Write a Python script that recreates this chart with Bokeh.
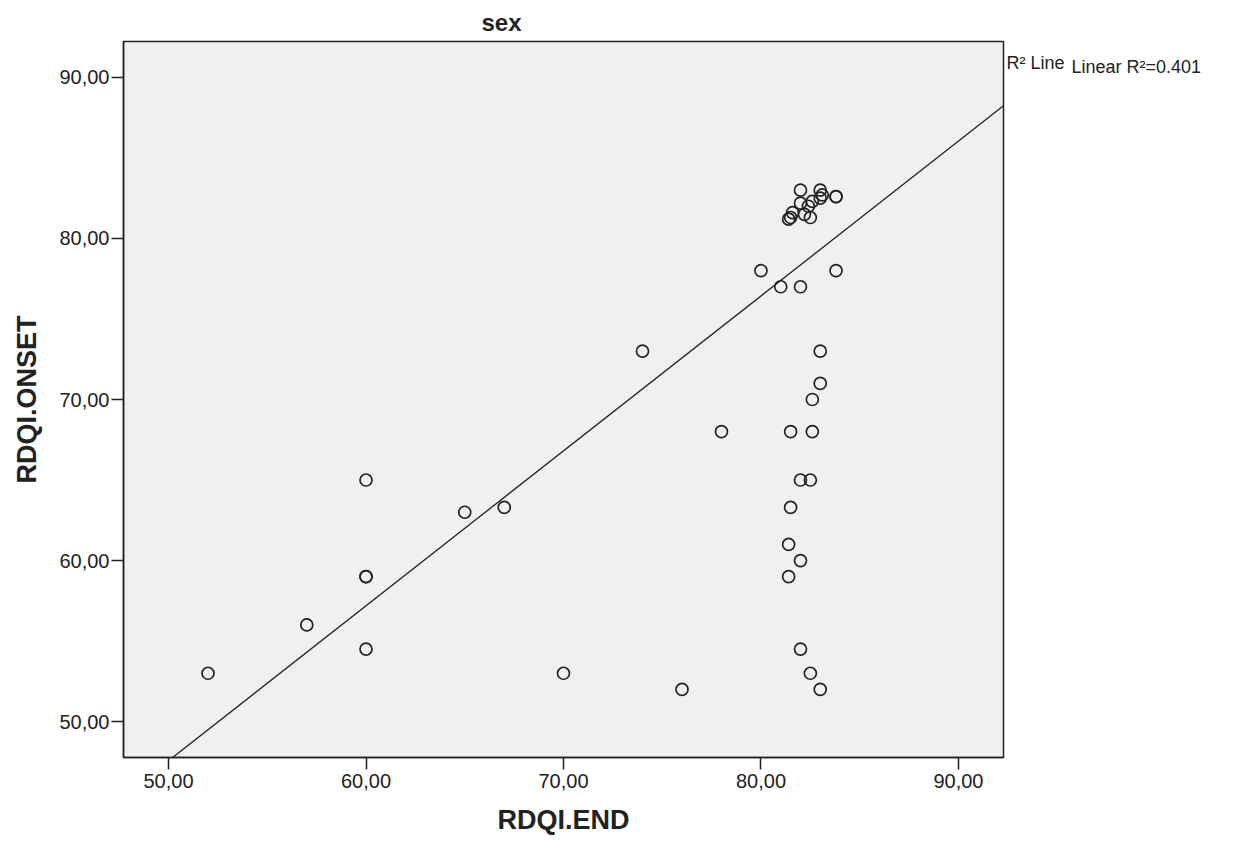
from bokeh.plotting import figure
from bokeh.layouts import row
from bokeh.models import Range1d, FixedTicker, Title
from bokeh.core.properties import value
from bokeh.embed import file_html
from bokeh.resources import INLINE

# Data (RDQI.END, RDQI.ONSET)
rdqi_end = [52, 57, 60, 60, 60, 60, 65, 67, 70, 74, 76, 78, 80, 81, 82, 83.8,
            83, 83, 82.6, 81.5, 82.6, 82, 82.5, 81.5, 81.4, 82, 81.4, 82, 82.5, 83,
            82, 83, 83.8, 83.8, 82, 82.6, 83.1, 83, 81.5, 81.4, 82.2, 82.5, 81.6, 82.4]
rdqi_onset = [53, 56, 54.5, 59, 59, 65, 63, 63.3, 53, 73, 52, 68, 78, 77, 77, 78,
              73, 71, 70, 68, 68, 65, 65, 63.3, 61, 60, 59, 54.5, 53, 52,
              83, 83, 82.6, 82.6, 82.2, 82.3, 82.7, 82.5, 81.3, 81.2, 81.5, 81.3, 81.6, 82.0]

x_ticks = [50, 60, 70, 80, 90]
x_tick_labels = ["50,00", "60,00", "70,00", "80,00", "90,00"]
y_ticks = [50, 60, 70, 80, 90]
y_tick_labels = ["50,00", "60,00", "70,00", "80,00", "90,00"]

fit_intercept = -0.53
fit_slope = 0.962
legend_text = "R\u00b2 Line"
r2_text = "Linear R\u00b2=0.401"

FONT = "Liberation Sans"
INK = "#222222"

p = figure(width=1006, height=840, output_backend="svg", toolbar_location=None,
           x_range=Range1d(47.72, 92.28), y_range=Range1d(47.77, 92.23),
           min_border_left=123, min_border_right=3, min_border_top=40, min_border_bottom=83)
p.background_fill_color = "#f0f0f0"
p.border_fill_color = "white"
p.outline_line_color = INK
p.outline_line_width = 1.5
p.grid.visible = False

for ax, ticks, labels in ((p.xaxis[0], x_ticks, x_tick_labels), (p.yaxis[0], y_ticks, y_tick_labels)):
    ax.ticker = FixedTicker(ticks=ticks)
    ax.major_label_overrides = {t: l for t, l in zip(ticks, labels)}
    ax.minor_tick_line_color = None
    ax.major_tick_out = 12
    ax.major_tick_in = 0
    ax.major_tick_line_width = 1.5
    ax.major_tick_line_color = INK
    ax.axis_line_width = 1.5
    ax.axis_line_color = INK
    ax.major_label_text_font = FONT
    ax.major_label_text_font_size = "20px"
    ax.major_label_text_color = INK
    ax.axis_label_text_font = FONT
    ax.axis_label_text_font_size = "27px"
    ax.axis_label_text_font_style = "bold"
    ax.axis_label_text_color = INK

p.xaxis.axis_label = "RDQI.END"
p.yaxis.axis_label = "RDQI.ONSET"
p.xaxis.major_label_standoff = 4
p.xaxis.axis_label_standoff = 14
p.yaxis.major_label_standoff = 2
p.yaxis.axis_label_standoff = 14

# regression line
x0, x1 = 47.72, 92.28
p.line([x0, x1], [fit_intercept + fit_slope * x0, fit_intercept + fit_slope * x1],
       line_color=INK, line_width=1.3)

p.scatter(rdqi_end, rdqi_onset, marker="circle", size=12, fill_color=None,
          line_color=INK, line_width=1.7)

p.add_layout(Title(text="sex", align="left", offset=358, text_font=FONT, text_font_size="24px",
                   text_font_style="bold", text_color=INK, standoff=12), "above")

# side panel with the R-squared legend texts
side = figure(width=224, height=840, output_backend="svg", toolbar_location=None,
              x_range=Range1d(0, 224), y_range=Range1d(840, 0),
              x_axis_type=None, y_axis_type=None, min_border=0)
side.outline_line_color = None
side.grid.visible = False
side.background_fill_color = "white"
side.border_fill_color = "white"
side.text(x=[0], y=[25], text=[legend_text], text_font=value(FONT), text_font_size="18px",
          text_color=INK, text_baseline="alphabetic", text_align="left")
side.text(x=[65], y=[30], text=[r2_text], text_font=value(FONT), text_font_size="18px",
          text_color=INK, text_baseline="alphabetic", text_align="left")

layout = row(p, side, spacing=0)
open("out.html", "w").write(file_html(layout, INLINE))
